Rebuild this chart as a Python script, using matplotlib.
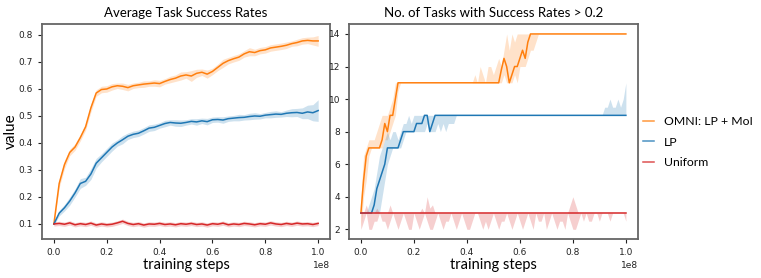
import numpy as np
import matplotlib
matplotlib.use("Agg")
import matplotlib.pyplot as plt

# left panel: average task success rate, sampled every 2e6 steps
steps_l = np.linspace(0, 1e8, 51)
omni_mean = [0.100, 0.250, 0.320, 0.365, 0.385, 0.420, 0.460, 0.530, 0.585, 0.598,
             0.600, 0.608, 0.612, 0.610, 0.605, 0.612, 0.615, 0.618, 0.620, 0.622,
             0.620, 0.628, 0.635, 0.640, 0.648, 0.652, 0.648, 0.658, 0.662, 0.655,
             0.665, 0.680, 0.695, 0.705, 0.712, 0.718, 0.730, 0.738, 0.735, 0.742,
             0.745, 0.752, 0.755, 0.758, 0.762, 0.768, 0.772, 0.778, 0.780, 0.778,
             0.778]
omni_err = [0.005, 0.015, 0.015, 0.012, 0.012, 0.012, 0.012, 0.015, 0.012, 0.012,
            0.012, 0.012, 0.010, 0.012, 0.012, 0.010, 0.010, 0.012, 0.010, 0.012,
            0.012, 0.010, 0.012, 0.012, 0.015, 0.012, 0.020, 0.015, 0.012, 0.015,
            0.012, 0.012, 0.015, 0.012, 0.012, 0.012, 0.012, 0.015, 0.012, 0.012,
            0.012, 0.012, 0.012, 0.012, 0.012, 0.010, 0.012, 0.012, 0.012, 0.015,
            0.020]
lp_mean = [0.100, 0.140, 0.160, 0.185, 0.215, 0.250, 0.258, 0.285, 0.325, 0.345,
           0.365, 0.385, 0.400, 0.412, 0.425, 0.432, 0.436, 0.445, 0.455, 0.458,
           0.465, 0.472, 0.476, 0.474, 0.473, 0.476, 0.480, 0.478, 0.482, 0.479,
           0.486, 0.487, 0.485, 0.490, 0.492, 0.494, 0.495, 0.498, 0.500, 0.499,
           0.503, 0.505, 0.507, 0.506, 0.510, 0.512, 0.513, 0.510, 0.515, 0.512,
           0.520]
lp_err = [0.005, 0.010, 0.012, 0.015, 0.015, 0.018, 0.015, 0.020, 0.018, 0.015,
          0.015, 0.015, 0.012, 0.015, 0.012, 0.012, 0.012, 0.012, 0.012, 0.012,
          0.010, 0.012, 0.010, 0.012, 0.012, 0.010, 0.010, 0.012, 0.010, 0.012,
          0.010, 0.010, 0.012, 0.010, 0.010, 0.012, 0.010, 0.012, 0.012, 0.010,
          0.010, 0.012, 0.012, 0.010, 0.012, 0.015, 0.015, 0.020, 0.025, 0.030,
          0.040]
uni_mean = [0.100, 0.102, 0.099, 0.104, 0.097, 0.101, 0.098, 0.103, 0.096, 0.100,
            0.097, 0.099, 0.104, 0.110, 0.102, 0.098, 0.101, 0.096, 0.100, 0.099,
            0.102, 0.098, 0.100, 0.097, 0.101, 0.099, 0.102, 0.098, 0.100, 0.096,
            0.101, 0.099, 0.103, 0.097, 0.100, 0.098, 0.102, 0.100, 0.097, 0.101,
            0.099, 0.104, 0.100, 0.098, 0.102, 0.099, 0.103, 0.100, 0.101, 0.098,
            0.102]
uni_err = [0.008] * 51

# right panel: number of tasks with success rate > 0.2, every 1e6 steps
steps_r = np.linspace(0, 1e8, 101)
omni_n = ([3, 5, 6.5, 7, 7, 7, 7, 7, 7.5, 8.5, 8, 9, 9, 10, 11]
          + [11] * 38
          + [11.8, 12.5, 12, 11, 11.5, 12, 12, 12.5, 13, 12.5, 13.5, 14]
          + [14] * 36)
omni_lo = ([2, 4, 5, 6.5, 7, 7, 7, 7, 7, 7.5, 7.5, 8, 8.5, 9, 10.5]
           + [11] * 39
           + [11.5, 11, 11, 11, 11.5, 11, 12, 12, 12, 12.5, 13, 13, 13.5]
           + [14] * 34)
omni_hi = ([4, 6.5, 7, 7.5, 7.5, 7.5, 8, 8.5, 9, 9, 9, 9.5, 10, 11, 11]
           + [11] * 28
           + [11.5, 11, 12, 11.5, 11, 12, 12, 11.5, 12, 12.5, 12, 13, 14, 13,
              14, 13.5, 14, 14, 14, 14, 14, 14, 14, 14]
           + [14] * 34)
lp_n = ([3, 3, 3, 3, 3, 3.5, 4.5, 5, 5.5, 6, 7, 7, 7, 7, 7, 7.5, 8, 8, 8, 8, 8,
         8.5, 8.5, 8.5, 9, 9, 8, 8.5, 9]
        + [9] * 72)
lp_lo = ([3, 3, 3, 3, 3, 3, 3, 3, 4, 5, 6, 6.5, 7, 7, 7, 7, 7.5, 8, 8, 8, 8,
          8, 8, 8, 8, 8.5, 8, 8, 8, 8.5, 8, 8.5, 8, 8.5, 8.5, 8.5]
         + [9] * 65)
lp_hi = ([3, 3, 3, 3.5, 4, 4.5, 5.5, 6.5, 7, 7.5, 8, 7.5, 8, 8, 7.5, 8, 8.5,
          8.5, 9, 8.5, 9]
         + [9] * 71
         + [9.5, 9.5, 10, 9.5, 9.5, 10, 9.5, 10, 11])
uni_n = [3] * 101
uni_lo = [2.0, 2.5, 3.0, 2.0, 2.0, 2.5, 2.5, 3.0, 2.5, 2.5,
          2.0, 2.5, 3.0, 2.5, 2.0, 2.5, 3.0, 2.5, 2.0, 2.0,
          3.0, 2.5, 2.0, 2.5, 3.0, 2.5, 2.0, 2.0, 2.5, 3.0,
          2.5, 2.0, 2.5, 2.5, 3.0, 2.5, 2.0, 2.5, 3.0, 2.5,
          2.0, 2.0, 2.5, 3.0, 3.0, 2.5, 2.0, 2.5, 2.0, 2.5,
          3.0, 2.5, 2.0, 2.5, 2.5, 3.0, 2.5, 2.0, 2.5, 3.0,
          2.5, 2.0, 2.5, 3.0, 2.5, 2.0, 3.0, 2.5, 2.5, 3.0,
          2.0, 2.5, 3.0, 2.5, 2.0, 2.5, 2.5, 2.0, 3.0, 2.5,
          2.0, 2.0, 2.5, 3.0, 2.5, 3.0, 2.5, 2.5, 3.0, 3.0,
          2.5, 3.0, 3.0, 3.0, 2.5, 3.0, 3.0, 3.0, 3.0, 3.0,
          2.5]
uni_hi = [3.0, 3.0, 3.5, 3.0, 3.0, 3.0, 3.3, 3.0, 3.0, 3.0,
          3.0, 3.5, 3.0, 3.0, 3.0, 3.0, 3.0, 3.0, 3.0, 3.0,
          3.0, 3.0, 3.0, 3.3, 3.0, 4.0, 3.3, 3.5, 3.0, 3.0,
          3.0, 3.0, 3.0, 3.0, 3.0, 3.0, 3.0, 3.0, 3.0, 3.0,
          3.0, 3.0, 3.0, 3.0, 3.0, 3.0, 3.0, 3.0, 3.0, 3.0,
          3.0, 3.0, 3.0, 3.0, 3.0, 3.0, 3.0, 3.0, 3.0, 3.0,
          3.0, 3.0, 3.0, 3.0, 3.0, 3.0, 3.0, 3.0, 3.0, 3.0,
          3.0, 3.0, 3.0, 3.0, 3.0, 3.0, 3.0, 3.0, 3.0, 3.5,
          4.0, 3.5, 3.0, 3.0, 3.0, 3.0, 3.0, 3.0, 3.0, 3.0,
          3.0, 3.0, 3.0, 3.0, 3.0, 3.0, 3.0, 3.0, 3.0, 3.0,
          3.0]

names = ['OMNI: LP + MoI', 'LP', 'Uniform']
colors = ['#ff7f0e', '#1f77b4', '#d62728']

plt.rcParams['font.family'] = ['Lato', 'DejaVu Sans']

fig = plt.figure(figsize=(7.61, 2.78), dpi=100)
ax1 = fig.add_axes([0.0552, 0.140, 0.3785, 0.773])
ax2 = fig.add_axes([0.4586, 0.140, 0.3795, 0.773])

#left
for m, e, c, n in zip([omni_mean, lp_mean, uni_mean], [omni_err, lp_err, uni_err], colors, names):
    m = np.array(m); e = np.array(e)
    ax1.fill_between(steps_l, m - e, m + e, color=c, alpha=0.22, lw=0)
    ax1.plot(steps_l, m, color=c, lw=1.1, label=n)

#right
for m, lo, hi, c in zip([omni_n, lp_n, uni_n], [omni_lo, lp_lo, uni_lo], [omni_hi, lp_hi, uni_hi], colors):
    ax2.fill_between(steps_r, lo, hi, color=c, alpha=0.22, lw=0)
    ax2.plot(steps_r, m, color=c, lw=1.1)

ax1.set_ylim(0.044, 0.84)
ax1.set_yticks([0.1, 0.2, 0.3, 0.4, 0.5, 0.6, 0.7, 0.8])
ax2.set_ylim(1.4, 14.6)
ax2.set_yticks([2, 4, 6, 8, 10, 12, 14])

ax1.set_title('Average Task Success Rates', fontsize=9.5, pad=5)
ax2.set_title('No. of Tasks with Success Rates > 0.2', fontsize=9.5, pad=5)
ax1.set_ylabel('value', fontsize=11)
ax1.yaxis.set_label_coords(-0.083, 0.5)
for ax in (ax1, ax2):
    ax.set_xlim(-0.045e8, 1.045e8)
    ax.set_xticks([0, 0.2e8, 0.4e8, 0.6e8, 0.8e8, 1e8])
    ax.set_xlabel('training steps', fontsize=10.5, labelpad=1)
    for lab in ax.get_xticklabels() + ax.get_yticklabels():
        lab.set_family('DejaVu Sans')
    ax.tick_params(labelsize=6.5, length=3, width=0.8, colors='#222222')
    ax.xaxis.get_offset_text().set_fontsize(6.5)
    ax.xaxis.get_offset_text().set_family('DejaVu Sans')
    for s in ax.spines.values():
        s.set_color('#666666')
        s.set_linewidth(1.3)

leg = fig.legend(loc='center left', bbox_to_anchor=(0.845, 0.489), frameon=False,
                 fontsize=8.8, handlelength=0.9, handletextpad=0.8, labelspacing=0.8,
                 borderaxespad=0, borderpad=0)
for h in leg.legend_handles:
    h.set_alpha(0.8)

fig.savefig('out.png', dpi=100)
